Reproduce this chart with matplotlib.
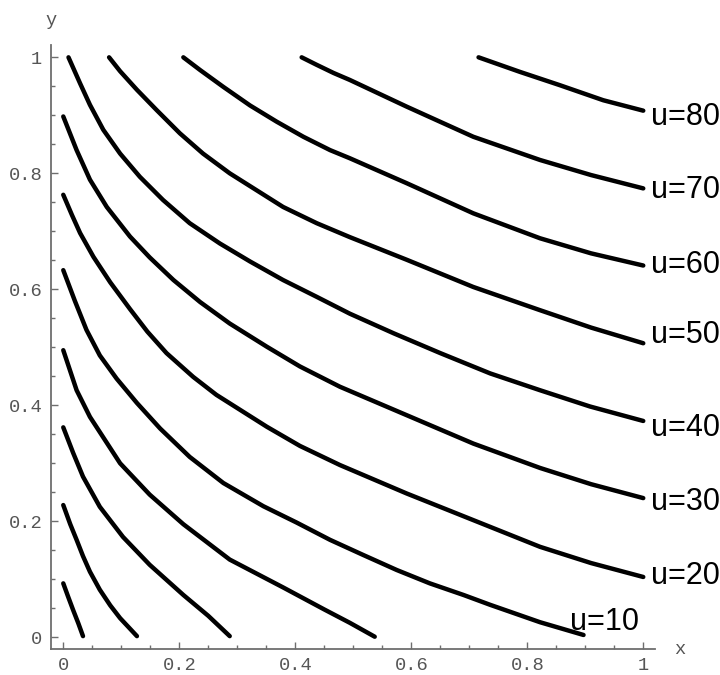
import numpy as np
import matplotlib
matplotlib.use("Agg")
import matplotlib.pyplot as plt
from matplotlib.ticker import MultipleLocator

# level curves, innermost first
xa = [0.0, 0.008, 0.017, 0.026, 0.034]
ya = [0.093, 0.071, 0.047, 0.024, 0.002]

xb = [0.0, 0.012, 0.023, 0.034, 0.046, 0.063, 0.081, 0.098, 0.113, 0.127]
yb = [0.228, 0.195, 0.168, 0.140, 0.113, 0.082, 0.055, 0.033, 0.017, 0.002]

xc = [0.0, 0.017, 0.034, 0.063, 0.103, 0.149, 0.207, 0.250, 0.287]
yc = [0.362, 0.318, 0.277, 0.225, 0.173, 0.125, 0.073, 0.037, 0.002]

xd = [0.0, 0.023, 0.046, 0.098, 0.149, 0.207, 0.287, 0.379, 0.450, 0.494, 0.537]
yd = [0.495, 0.426, 0.380, 0.300, 0.246, 0.195, 0.134, 0.086, 0.048, 0.025, 0.001]

xe = [0.0, 0.020, 0.040, 0.063, 0.092, 0.127, 0.167, 0.218, 0.276, 0.345, 0.402,
      0.460, 0.517, 0.575, 0.632, 0.690, 0.736, 0.822, 0.897]
ye = [0.633, 0.580, 0.530, 0.486, 0.446, 0.404, 0.360, 0.311, 0.266, 0.226, 0.198,
      0.168, 0.142, 0.116, 0.093, 0.073, 0.056, 0.026, 0.004]

xf = [0.0, 0.015, 0.029, 0.052, 0.081, 0.115, 0.145, 0.178, 0.224, 0.264, 0.351,
      0.408, 0.477, 0.592, 0.707, 0.822, 0.910, 1.0]
yf = [0.763, 0.728, 0.697, 0.656, 0.612, 0.566, 0.527, 0.490, 0.449, 0.418, 0.363,
      0.330, 0.297, 0.248, 0.202, 0.156, 0.128, 0.104]

xg = [0.0, 0.023, 0.046, 0.075, 0.115, 0.149, 0.190, 0.236, 0.287, 0.351, 0.408,
      0.477, 0.592, 0.707, 0.822, 0.910, 1.0]
yg = [0.898, 0.840, 0.789, 0.742, 0.691, 0.655, 0.616, 0.578, 0.541, 0.501, 0.467,
      0.432, 0.383, 0.334, 0.292, 0.264, 0.240]

xh = [0.009, 0.029, 0.046, 0.069, 0.098, 0.132, 0.172, 0.218, 0.270, 0.322, 0.379,
      0.437, 0.494, 0.570, 0.650, 0.736, 0.822, 0.908, 1.0]
yh = [1.0, 0.955, 0.918, 0.875, 0.834, 0.794, 0.754, 0.714, 0.679, 0.648, 0.616,
      0.587, 0.558, 0.524, 0.490, 0.455, 0.426, 0.398, 0.373]

xi = [0.079, 0.098, 0.127, 0.161, 0.201, 0.241, 0.287, 0.333, 0.379, 0.437, 0.494,
      0.592, 0.707, 0.822, 0.910, 1.0]
yi = [1.0, 0.976, 0.944, 0.909, 0.869, 0.834, 0.800, 0.771, 0.742, 0.714, 0.690,
      0.651, 0.604, 0.564, 0.534, 0.507]

xj = [0.207, 0.236, 0.276, 0.322, 0.368, 0.414, 0.460, 0.494, 0.592, 0.707, 0.822, 0.910, 1.0]
yj = [1.0, 0.978, 0.949, 0.917, 0.889, 0.863, 0.840, 0.826, 0.783, 0.731, 0.688, 0.662, 0.641]

xk = [0.411, 0.437, 0.466, 0.494, 0.592, 0.707, 0.822, 0.910, 1.0]
yk = [1.0, 0.987, 0.973, 0.961, 0.915, 0.863, 0.823, 0.797, 0.774]

xl = [0.716, 0.787, 0.856, 0.931, 1.0]
yl = [1.0, 0.975, 0.952, 0.926, 0.908]

curves = [(xa, ya), (xb, yb), (xc, yc), (xd, yd), (xe, ye), (xf, yf),
          (xg, yg), (xh, yh), (xi, yi), (xj, yj), (xk, yk), (xl, yl)]

# labelled curves: u=10 .. u=80 (the last eight)
labels = ["u=10", "u=20", "u=30", "u=40", "u=50", "u=60", "u=70", "u=80"]
label_dy = [0, 4, -1, -4, 11, 4, 1, -3]  # pixel nudges, up is positive

fig = plt.figure(figsize=(7.2, 6.75), dpi=100)
ax = fig.add_axes([0.0704, 0.0385, 0.8393, 0.8948])

for cx, cy in curves:
    ax.plot(cx, cy, color="black", lw=3.2, solid_capstyle="round", solid_joinstyle="round")

px = 72 / 100  # points per pixel
for k, lab in enumerate(labels):
    cx, cy = curves[4 + k]
    if lab == "u=10":
        ax.annotate(lab, xy=(cx[-1], cy[-1]), xytext=(55 * px, (16 - 11) * px),
                    textcoords="offset points", ha="right", va="baseline",
                    fontsize=22, family="Liberation Sans", annotation_clip=False)
    else:
        ax.annotate(lab, xy=(cx[-1], cy[-1]), xytext=(8 * px, (label_dy[k] - 11) * px),
                    textcoords="offset points", ha="left", va="baseline",
                    fontsize=22, family="Liberation Sans", annotation_clip=False)

ax.set_xlim(-0.0217, 1.0202)
ax.set_ylim(-0.0202, 1.0212)

gray = "#6e6e6e"
for s in ["top", "right"]:
    ax.spines[s].set_visible(False)
for s in ["left", "bottom"]:
    ax.spines[s].set_color(gray)
    ax.spines[s].set_linewidth(1.3)

ax.xaxis.set_major_locator(MultipleLocator(0.2))
ax.yaxis.set_major_locator(MultipleLocator(0.2))
ax.xaxis.set_minor_locator(MultipleLocator(0.05))
ax.yaxis.set_minor_locator(MultipleLocator(0.05))
ax.tick_params(which="both", direction="in", color=gray, width=1.0)
ax.tick_params(which="major", length=5, labelsize=13.5, labelcolor="#555555", pad=6)
ax.tick_params(which="minor", length=3)

ax.xaxis.set_major_formatter(lambda v, p: "0" if abs(v) < 1e-9 else ("1" if abs(v - 1) < 1e-9 else f"{v:.1f}"))
ax.yaxis.set_major_formatter(lambda v, p: "0" if abs(v) < 1e-9 else ("1" if abs(v - 1) < 1e-9 else f"{v:.1f}"))
for t in ax.get_xticklabels() + ax.get_yticklabels():
    t.set_family("Liberation Mono")

ax.set_xlabel("x", family="Liberation Mono", fontsize=13.5, color="#555555")
ax.set_ylabel("y", family="Liberation Mono", fontsize=13.5, color="#555555", rotation=0)
ax.xaxis.set_label_coords(1.041, 0.0)
ax.yaxis.set_label_coords(0.0, 1.041)
ax.xaxis.label.set_va("center")
ax.yaxis.label.set_va("center")
ax.yaxis.label.set_ha("center")

fig.savefig("out.png", dpi=100)
